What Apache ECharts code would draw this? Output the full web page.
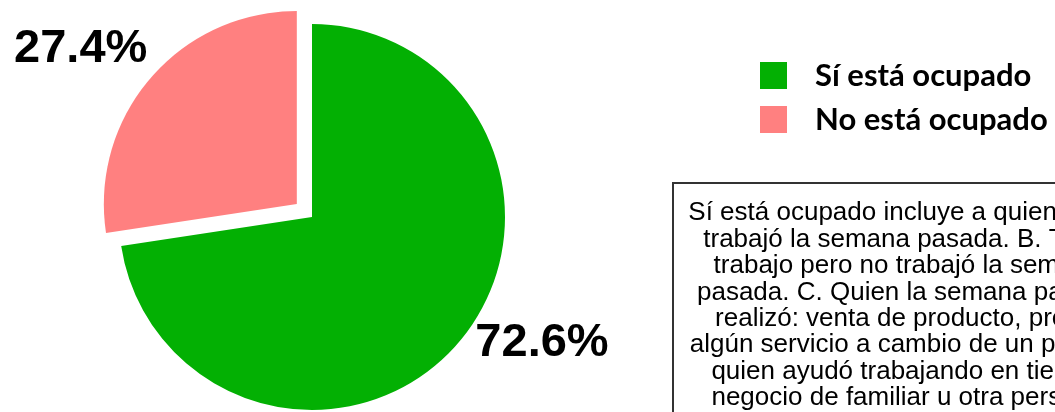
<!DOCTYPE html>
<html>
<head>
<meta charset="utf-8">
<script src="https://cdn.jsdelivr.net/npm/echarts@6/dist/echarts.min.js"></script>
<style>
  html, body { margin: 0; padding: 0; background: #fff; }
  #pieChart { width: 1055px; height: 412px; }
</style>
</head>
<body>
<div id="pieChart"></div>
<script>
const categories = ["Sí está ocupado", "No está ocupado"];
const values = [72.6, 27.4];
const colors = ["#03b003", "#ff8080"];
const noteLines = [
  "Sí está ocupado incluye a quien: A. Sí",
  "trabajó la semana pasada. B. Tiene",
  "trabajo pero no trabajó la semana",
  "pasada. C. Quien la semana pasada",
  "realizó: venta de producto, prestó",
  "algún servicio a cambio de un pago, y",
  "quien ayudó trabajando en tienda,",
  "negocio de familiar u otra persona",
];

let myChart = echarts.init(document.getElementById("pieChart"));

// label placement per slice (line hidden, only used to push the text out)
const labelLines = [
  { show: false, length: 0, length2: 12 },
  { show: false, length: 45, length2: -36 },
];

let pieData = [];
values.map((v, i) => {
  pieData.push({
    name: categories[i],
    value: v,
    selected: i === 1,
    itemStyle: { color: colors[i] },
    labelLine: labelLines[i],
  });
});

let option = {
  animation: false,
  legend: {
    orient: "vertical",
    left: 755,
    top: 55,
    icon: "rect",
    itemWidth: 27,
    itemHeight: 27,
    itemGap: 13,
    selectedMode: false,
    textStyle: {
      fontFamily: "Lato",
      fontWeight: "bold",
      fontSize: 31,
      color: "#000",
      padding: [0, 0, 0, 23],
    },
    data: categories,
  },
  graphic: [
    {
      type: "rect",
      shape: { x: 673, y: 183, width: 470, height: 300 },
      style: { fill: "#fff", stroke: "#333", lineWidth: 2 },
    },
    {
      type: "text",
      x: 908,
      y: 200,
      style: {
        text: noteLines.join("\n"),
        fontFamily: "Liberation Sans",
        fontSize: 26,
        lineHeight: 26.4,
        fill: "#000",
        align: "center",
        verticalAlign: "top",
      },
    },
  ],
  series: [
    {
      type: "pie",
      center: [312, 217],
      radius: 193,
      startAngle: 90,
      clockwise: true,
      selectedMode: "single",
      selectedOffset: 20,
      avoidLabelOverlap: false,
      emphasis: { disabled: true },
      itemStyle: { borderWidth: 0 },
      label: {
        show: true,
        position: "outside",
        fontFamily: "Liberation Sans",
        fontWeight: "bold",
        fontSize: 47,
        color: "#000",
        formatter: function (params) {
          return params.value.toFixed(1) + "%";
        },
      },
      data: pieData,
    },
  ],
};

myChart.setOption(option);
</script>
</body>
</html>
